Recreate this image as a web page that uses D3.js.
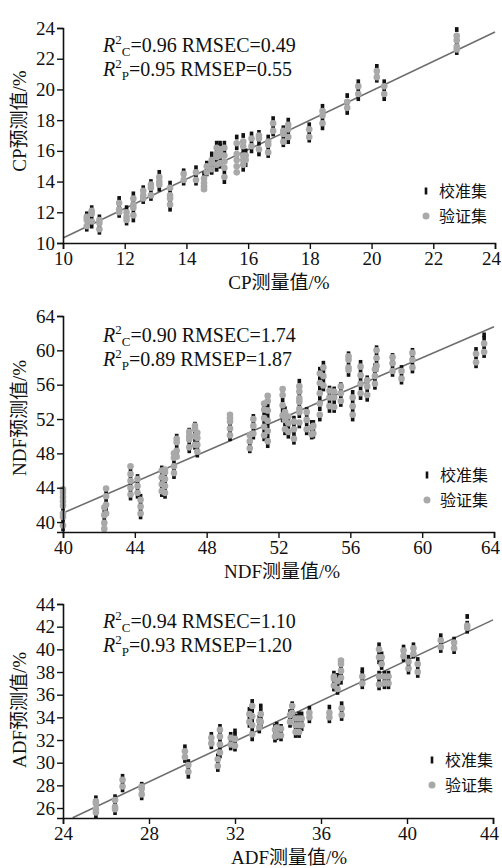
<!DOCTYPE html>
<html>
<head>
<meta charset="utf-8">
<script src="https://cdn.jsdelivr.net/npm/d3@7"></script>
<style>
  body { margin: 0; background: #fff; }
  text { font-family: "Liberation Serif", "Times New Roman", "Noto Sans CJK SC", serif; fill: #111; }
</style>
</head>
<body>
<svg id="chart" width="502" height="868"></svg>
<script>
// each cluster: [measured, calibration predictions, validation predictions]
const cpClusters = [
  [10.77, [10.9, 11.3, 11.9], [11.1, 11.5, 11.7]],
  [10.93, [11.1, 11.7, 12.3], [11.4, 11.9, 12.1]],
  [11.18, [10.7, 11.1, 11.7], [10.9, 11.3, 11.5]],
  [11.82, [11.8, 12.4, 12.9], [12.0, 12.2, 12.6]],
  [12.06, [11.3, 11.8, 12.3], [11.5, 11.7, 12.0]],
  [12.28, [11.5, 12.1, 12.7, 13.2], [11.8, 12.3, 12.5, 12.9]],
  [12.6, [12.7, 13.2, 13.6], [12.9, 13.1, 13.4]],
  [12.85, [12.9, 13.4, 14.0], [13.1, 13.6, 13.8]],
  [13.12, [13.5, 14.1, 14.6], [13.8, 14.0, 14.3]],
  [13.47, [12.2, 12.7, 13.3, 13.9], [12.5, 12.9, 13.1, 13.6]],
  [13.91, [13.9, 14.3, 14.7], [14.1, 14.5]],
  [14.31, [13.9, 14.4, 14.9], [14.1, 14.6]],
  [14.57, [14.5], [13.5, 13.7, 13.9, 14.2]],
  [14.66, [14.5, 14.8, 15.2], [14.6, 15.0]],
  [14.82, [14.6, 15.0, 15.5, 15.8], [14.8, 15.2, 15.4]],
  [14.98, [14.8, 15.3, 16.0, 16.5], [15.1, 15.6, 15.8, 16.2]],
  [15.09, [15.0, 15.4, 16.3, 16.5], [15.2, 15.7, 15.9, 16.1]],
  [15.23, [14.0, 14.6, 16.0, 16.5], [14.3, 14.9, 15.3, 15.7, 16.2]],
  [15.63, [15.7, 16.2, 16.9], [14.6, 15.0, 15.4, 15.8, 16.5]],
  [15.84, [14.8, 16.0, 17.0], [15.1, 15.4, 15.7, 16.3, 16.6]],
  [15.92, [15.1, 16.0], [15.4, 15.7]],
  [16.11, [16.0, 16.6, 17.1], [16.3, 16.8]],
  [16.35, [15.8, 16.5, 17.2], [16.1, 16.8, 17.0]],
  [16.65, [15.7, 16.2, 16.9], [15.9, 16.4, 16.6]],
  [16.81, [17.1, 17.6, 18.1], [17.3, 17.8]],
  [17.14, [16.4, 16.9, 17.5], [16.6, 17.1, 17.3]],
  [17.3, [16.6, 17.2, 18.0], [16.9, 17.4, 17.7]],
  [17.98, [16.7, 17.2, 17.7], [16.9, 17.4]],
  [18.41, [17.5, 18.1, 18.9], [17.8, 18.3, 18.6]],
  [19.21, [18.5, 19.0, 19.6], [18.8, 19.2]],
  [19.57, [19.4, 20.0, 20.5], [19.7, 20.2]],
  [20.17, [20.6, 21.0, 21.5], [20.8, 21.2]],
  [20.41, [19.4, 20.0, 20.5], [19.7, 20.2]],
  [22.76, [22.4, 23.0, 23.9], [22.6, 22.8, 23.2, 23.5]]
];

const ndfClusters = [
  [40.0, [39.2, 40.2, 41.5], [39.6, 40.6, 41.0, 41.9, 42.4, 42.9, 43.4, 43.8]],
  [42.3, [39.5, 40.4, 41.3], [39.2, 39.9, 40.8, 41.7]],
  [42.4, [41.5, 42.5, 43.4], [41.0, 42.0, 43.0, 43.9]],
  [43.76, [42.8, 43.6, 44.4, 45.2, 46.0], [43.2, 44.0, 44.8, 45.6, 46.5]],
  [44.15, [43.0, 43.8, 44.6, 45.3], [43.4, 44.2, 45.0]],
  [44.32, [40.6, 41.4, 42.2, 43.0], [41.0, 41.8, 42.6]],
  [45.5, [43.2, 44.0, 44.8, 45.6, 46.3], [43.6, 44.4, 45.2, 46.0]],
  [45.68, [43.0, 43.8, 44.6, 45.4], [43.4, 44.2, 45.0, 45.8, 46.1]],
  [46.18, [45.3, 46.1, 47.0], [45.7, 46.5, 47.5, 48.0]],
  [46.33, [47.8, 48.8, 50.0], [47.6, 48.3, 49.3, 49.7]],
  [47.03, [48.3, 49.2, 50.2, 50.7], [48.7, 49.6, 50.0, 50.5]],
  [47.35, [48.7, 49.6, 50.4, 51.4], [49.0, 50.0, 50.8, 51.2]],
  [47.48, [47.8, 48.6, 49.4], [48.2, 49.0, 49.8, 50.4]],
  [49.3, [49.7, 50.5, 51.3, 52.4], [50.1, 50.9, 51.7, 52.1, 52.5]],
  [50.4, [48.3, 49.0], [48.6, 49.4, 50.1]],
  [50.6, [49.9, 50.8, 51.7, 52.3], [50.3, 51.2, 52.0]],
  [51.2, [49.7, 50.6, 51.6, 52.6, 53.6], [50.1, 51.1, 52.1, 53.1, 53.8]],
  [51.4, [48.9, 50.0, 51.2, 52.4, 53.6, 54.5], [49.4, 50.6, 51.8, 53.0, 54.1, 54.7]],
  [52.23, [51.9, 53.0, 54.2, 55.4], [52.4, 53.6, 54.8, 55.5]],
  [52.36, [50.4, 51.4, 52.4, 53.2], [50.8, 51.9, 52.8]],
  [52.55, [50.0, 51.0, 52.0], [50.5, 51.5, 52.3]],
  [52.86, [49.3, 50.3, 51.3, 52.1], [49.7, 50.8, 51.7]],
  [53.16, [51.2, 52.4, 53.6, 54.8, 56.4], [51.6, 52.8, 53.2, 54.0, 54.4, 55.2, 55.8]],
  [53.57, [50.4, 51.4, 52.4, 53.1], [50.8, 51.9, 52.8]],
  [53.85, [49.9, 50.8, 51.6], [50.2, 51.0]],
  [53.94, [50.0, 50.8, 51.6], [50.3, 51.2]],
  [54.3, [52.0, 53.2, 54.4, 55.6, 56.8, 57.8], [52.5, 53.8, 55.0, 56.2, 57.3]],
  [54.5, [55.5, 56.5, 57.5, 58.5], [55.9, 57.0, 58.0]],
  [54.84, [53.0, 54.0, 55.0, 55.6], [53.5, 54.5, 55.3]],
  [55.1, [53.0, 54.0, 55.0, 55.5], [53.4, 54.5, 55.2]],
  [55.47, [53.7, 54.6, 55.5, 56.0], [54.1, 55.0, 55.8]],
  [55.9, [57.2, 58.4, 59.6], [57.7, 58.0, 58.9, 59.3]],
  [56.13, [52.0, 53.0, 54.0, 55.1], [52.5, 53.5, 54.5]],
  [56.57, [54.5, 55.6, 56.6, 57.6, 58.6], [55.0, 56.1, 57.1, 58.1]],
  [56.94, [54.3, 55.3, 56.3, 56.8], [54.8, 55.8, 56.5]],
  [57.37, [55.7, 56.6, 57.4, 58.2], [56.1, 57.0, 57.8]],
  [57.46, [57.8, 58.7, 59.6, 60.3], [58.2, 59.1, 60.0]],
  [58.35, [57.2, 58.1, 59.0, 59.4], [57.6, 58.5, 59.2]],
  [58.85, [56.3, 57.2, 58.0], [56.7, 57.6]],
  [59.46, [57.6, 58.5, 59.4, 60.0], [58.0, 58.9, 59.7]],
  [63.0, [58.2, 59.2, 60.1], [58.6, 59.6]],
  [63.45, [59.4, 60.4, 61.4, 61.8], [59.8, 60.8]]
];

const adfClusters = [
  [25.53, [25.3, 26.1, 26.9], [25.6, 25.9, 26.4, 26.6]],
  [26.42, [25.6, 26.4, 27.0], [25.9, 26.1, 26.7]],
  [26.77, [27.6, 28.3, 28.8], [27.9, 28.5]],
  [27.66, [26.9, 27.5, 28.1], [27.2, 27.7, 27.9]],
  [29.67, [30.2, 30.8, 31.4], [30.5, 31.0]],
  [29.83, [28.8, 29.5, 30.1], [29.2, 29.8]],
  [30.9, [31.4, 32.0, 32.5], [31.7, 32.2]],
  [31.2, [29.4, 30.0, 30.6], [29.7, 30.3]],
  [31.3, [30.6, 31.3, 32.0, 32.7, 33.2], [30.9, 31.6, 32.3, 32.9]],
  [31.8, [31.3, 31.9, 32.5], [31.6, 32.2]],
  [32.0, [31.2, 31.8, 32.5, 32.8], [31.5, 32.1]],
  [32.67, [33.3, 34.0, 34.7], [33.6, 34.3]],
  [32.8, [32.1, 32.9, 33.7, 34.6, 35.4], [32.5, 33.3, 34.1, 35.0]],
  [33.13, [32.8, 33.4, 34.0], [33.1, 33.7]],
  [33.2, [33.3, 34.0, 34.6, 35.0], [33.6, 34.3]],
  [33.86, [32.0, 32.6, 33.2], [32.3, 32.9]],
  [33.94, [32.2, 32.8, 33.4], [32.5, 33.1]],
  [34.14, [32.1, 32.7, 33.2], [32.4, 33.0]],
  [34.56, [33.3, 33.9, 34.5], [33.6, 34.2]],
  [34.66, [34.1, 34.7, 35.2], [34.4, 35.0]],
  [34.82, [32.4, 33.0, 33.6, 34.1], [32.7, 33.3, 33.9]],
  [34.98, [32.4, 33.0, 33.6, 34.3], [32.7, 33.3, 33.9]],
  [35.1, [33.0, 33.6, 34.3], [33.3, 33.9]],
  [35.46, [33.7, 34.3, 34.8], [34.0, 34.4]],
  [36.39, [33.7, 34.3, 34.9], [34.0, 34.4]],
  [36.6, [36.5, 37.1, 37.9], [36.8, 37.4, 37.6]],
  [36.77, [36.2, 36.9, 37.7], [36.5, 37.2]],
  [36.93, [37.1, 37.8, 38.4], [37.5, 38.1, 38.7, 39.0]],
  [36.96, [33.9, 34.5, 35.2], [34.2, 34.8]],
  [37.92, [36.7, 37.3, 37.9, 38.2], [37.0, 37.6]],
  [38.7, [38.9, 39.6, 40.4], [39.3, 40.0]],
  [38.82, [38.4, 39.0, 39.6], [38.7, 39.3]],
  [38.7, [36.6, 37.3, 37.9], [36.9, 37.6]],
  [38.95, [36.7, 37.3, 37.9], [37.0, 37.6]],
  [39.14, [36.7, 37.3, 37.9], [37.0, 37.6]],
  [39.84, [39.1, 39.7, 40.2], [39.4, 39.9]],
  [40.07, [38.0, 38.6, 39.3], [38.3, 38.9]],
  [40.3, [39.4, 39.9, 40.4], [39.6, 40.1]],
  [40.5, [37.7, 38.4, 39.1], [38.0, 38.7]],
  [41.57, [39.9, 40.5, 41.2], [40.2, 40.8]],
  [42.19, [39.8, 40.4, 40.9], [40.1, 40.6]],
  [42.8, [41.6, 42.3, 42.9], [41.9, 42.1]]
];

// fitted line end points [measured, predicted]
const cpFit = [[10, 10.33], [24, 23.74]];
const ndfFit = [[40, 41.05], [64, 62.75]];
const adfFit = [[24.45, 25.15], [44, 42.6]];

const cpTicks = [10, 12, 14, 16, 18, 20, 22, 24];
const ndfTicks = [40, 44, 48, 52, 56, 60, 64];
const adfXTicks = [24, 28, 32, 36, 40, 44];
const adfYTicks = [26, 28, 30, 32, 34, 36, 38, 40, 42, 44];

const cpStats = ["0.96", "0.49", "0.95", "0.55"];
const ndfStats = ["0.90", "1.74", "0.89", "1.87"];
const adfStats = ["0.94", "1.10", "0.93", "1.20"];

const legendLabels = ["校准集", "验证集"];

const svg = d3.select("#chart");

const panels = [
  { name: "CP", clusters: cpClusters, fit: cpFit, stats: cpStats,
    xDom: [10, 24], yDom: [10, 24], xTicks: cpTicks, yTicks: cpTicks,
    xr: [63, 495], yr: [243, 28], statY: 52, legY: 191, legX: 426, xTitleX: 279, yTitleY: 121 },
  { name: "NDF", clusters: ndfClusters, fit: ndfFit, stats: ndfStats,
    xDom: [40, 64], yDom: [38.84, 64], xTicks: ndfTicks, yTicks: ndfTicks,
    xr: [63, 494], yr: [532, 316], statY: 342, legY: 475, legX: 427, xTitleX: 282, yTitleY: 418 },
  { name: "ADF", clusters: adfClusters, fit: adfFit, stats: adfStats,
    xDom: [24, 44], yDom: [25.12, 44], xTicks: adfXTicks, yTicks: adfYTicks,
    xr: [63, 493], yr: [818, 604], statY: 628, legY: 760, legX: 432, xTitleX: 289, yTitleY: 710 }
];

panels.forEach(p => {
  const x = d3.scaleLinear().domain(p.xDom).range(p.xr);
  const y = d3.scaleLinear().domain(p.yDom).range(p.yr);
  const g = svg.append("g");

  // regression line
  g.append("path").datum(p.fit)
    .attr("d", d3.line().x(d => x(d[0])).y(d => y(d[1])))
    .attr("stroke", "#6e6e6e").attr("stroke-width", 1.6).attr("fill", "none");

  const calib = [], valid = [];
  p.clusters.forEach(c => {
    c[1].forEach(v => calib.push([c[0], v]));
    c[2].forEach(v => valid.push([c[0], v]));
  });

  g.append("g").selectAll("rect").data(calib).enter().append("rect")
    .attr("x", d => x(d[0]) - 1.8).attr("y", d => y(d[1]) - 2.4)
    .attr("width", 3.6).attr("height", 4.8).attr("fill", "#111");
  g.append("g").selectAll("circle").data(valid).enter().append("circle")
    .attr("cx", d => x(d[0])).attr("cy", d => y(d[1])).attr("r", 3.3)
    .attr("fill", "#a9a9a9");

  // axes
  const ax = g.append("g").attr("transform", `translate(0,${p.yr[0]})`)
    .call(d3.axisBottom(x).tickValues(p.xTicks).tickSizeOuter(0).tickSize(6).tickPadding(3));
  const ay = g.append("g").attr("transform", `translate(${p.xr[0]},0)`)
    .call(d3.axisLeft(y).tickValues(p.yTicks).tickSizeOuter(0).tickSize(6).tickPadding(2));
  [ax, ay].forEach(a => {
    a.select(".domain").attr("stroke", "#111").attr("stroke-width", 1.6);
    a.selectAll(".tick line").attr("stroke", "#111").attr("stroke-width", 1.4);
    a.selectAll(".tick text").attr("font-size", 19).attr("fill", "#111");
  });
  // keep the last x label inside the page
  ax.selectAll(".tick text").filter((d, i, n) => i === n.length - 1).attr("dx", -4);

  // axis titles
  g.append("text").attr("x", p.xTitleX).attr("y", p.yr[0] + 46)
    .attr("text-anchor", "middle").attr("font-size", 19).text(p.name + "测量值/%");
  g.append("text").attr("transform", `translate(26,${p.yTitleY}) rotate(-90)`)
    .attr("text-anchor", "middle").attr("font-size", 19).text(p.name + "预测值/%");

  // stats text
  [["C", "RMSEC", 0], ["P", "RMSEP", 2]].forEach(([sub, lab, i], k) => {
    const t = g.append("text").attr("x", 103).attr("y", p.statY + k * 24).attr("font-size", 20);
    t.append("tspan").attr("font-style", "italic").text("R");
    t.append("tspan").attr("font-size", 13).attr("dy", -8).text("2");
    t.append("tspan").attr("font-size", 13).attr("dy", 12).text(sub);
    t.append("tspan").attr("dy", -4).text(`=${p.stats[i]} ${lab}=${p.stats[i + 1]}`);
  });

  // legend
  g.append("rect").attr("x", p.legX - 1.3).attr("y", p.legY - 3.5)
    .attr("width", 2.6).attr("height", 7).attr("fill", "#111");
  g.append("circle").attr("cx", p.legX).attr("cy", p.legY + 25).attr("r", 3.5).attr("fill", "#a9a9a9");
  legendLabels.forEach((l, i) => {
    g.append("text").attr("x", p.legX + 13).attr("y", p.legY + i * 25 + 6)
      .attr("font-size", 16).text(l);
  });
});
</script>
</body>
</html>
